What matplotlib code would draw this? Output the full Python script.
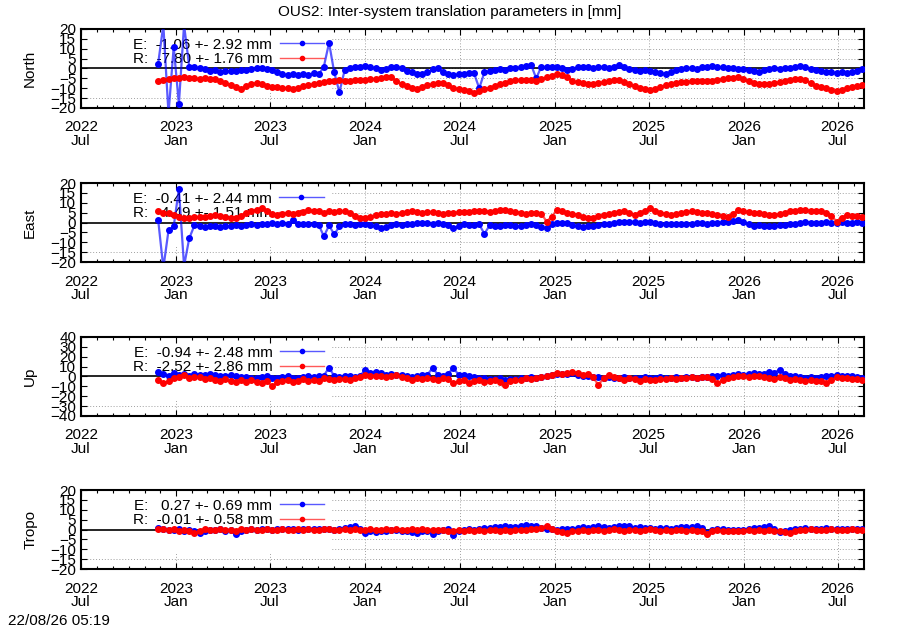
"""OUS2 inter-system translation parameters."""
import matplotlib
matplotlib.use('Agg')
import matplotlib.dates as mdates
import matplotlib.pyplot as plt
import pandas as pd
from matplotlib.patches import Rectangle

plt.rcParams['font.family'] = ['Liberation Sans', 'DejaVu Sans']

# one solution every 10 days from the first day on
FIRST_DAY = '2022-11-27'
N_DAYS = 137

north_e = [
    2.5, 22, -23, 11, -18, 22, 1, 0.5, 0, -0.5,
    -1.5, -1, -2, -1.5, -1.2, -1.5, -1, -0.8, -0.5, 0,
    0.3, -0.5, -1, -2, -3, -3.5, -3, -3.5, -3, -3.5,
    -2.5, -3, 1, 13, -2, -12, -1, 0, 1, 1,
    1.5, 0.5, 0, -1, -0.5, 1, 1, 0, -1.5, -2,
    -3, -3, -2, -0.5, 0, -2, -3, -3.5, -3, -3,
    -2.5, -2.5, -10, -2, -1.5, -1, -0.5, -1, 0, 0,
    0.5, 1.5, 2, -5, 1, 0.5, 1, 0.5, 0, -1,
    -0.5, 0.5, 0.5, 1, 0, 0.5, 1, 0, 0.5, 2,
    1, -0.5, -1, -1.5, -1, -1.5, -2, -2.5, -3, -2,
    -1, -0.5, 0, 0.3, -0.3, 0.5, 0.5, 1.2, 0.8, 0.5,
    0, 0.3, -0.3, -0.5, -1, -1.5, -2, -1, -0.3, 0,
    -0.5, 0, 0.3, 0.5, 1.2, 0.5, -0.5, -1, -1.5, -2,
    -2, -2.5, -2, -2.5, -2, -1.5, -0.5,
]
north_r = [
    -6.4, -6, -5.5, -5, -4.7, -4.5, -5, -5, -5.5, -5,
    -5.5, -5.5, -6.5, -7.5, -8.6, -9.5, -10.5, -9, -8, -7.3,
    -8, -9, -9.3, -9.5, -9.8, -10, -10.6, -10, -9, -8.5,
    -8, -7.5, -6.8, -6.4, -6.5, -6, -6.4, -6.5, -6, -5.8,
    -5.6, -5.5, -5.2, -5, -4.5, -4.2, -6.5, -8, -9, -10,
    -10.6, -9.5, -8.6, -8, -7.6, -7.3, -8.5, -9.8, -10.5, -11,
    -11.5, -12.3, -11.5, -10.5, -9.8, -9, -8, -7.3, -6.5, -6,
    -5.6, -5.8, -6, -6.4, -5.5, -4.5, -3.8, -3, -3.5, -4.5,
    -6.4, -7, -7.5, -8, -7.8, -7.3, -7, -6.5, -5.6, -6,
    -7, -8, -9, -10, -10.6, -11, -10.5, -9.5, -8.5, -8,
    -7.5, -7, -6.8, -6.4, -6.5, -6.4, -6.2, -6.4, -6, -5.5,
    -5, -4.7, -4.5, -5.5, -6.5, -7.3, -7.8, -8, -7.8, -7.3,
    -7, -6.5, -6, -5.5, -5.2, -6, -7.5, -8.9, -9.5, -10,
    -10.8, -11.5, -11, -9.8, -9.3, -9, -8.6,
]
east_e = [
    1.3, -23, -4, -2, 17, -22, -8, -1.5, -2, -2.2,
    -1.8, -2, -2.3, -1.7, -2, -1.5, -2, -1.2, -1, -1.3,
    -1, -0.8, -0.3, -0.5, -0.3, -0.5, 1.3, -0.5, -1, -0.8,
    -1, -1.2, -7, -1.5, -6, -2, -1, -1, -1.2, -1,
    -1, -1.5, -2, -3, -2.5, -1.5, -1, -1.5, -1, -0.5,
    -0.3, 0, -0.3, -0.5, 0, -1, -1.5, -3, -2, -1,
    -1.2, -1.5, -1, -5.7, -1.5, -1.8, -2, -1.5, -1.2, -2,
    -1.8, -1.5, -1, -1.5, -2.5, -3, -1, 0, 0, -0.3,
    -1.5, -2, -2.2, -2, -2, -1.5, -1, -0.5, 0, 0.3,
    0.5, 0.3, 0.5, 0, 0.3, 0.5, 0, -0.5, -0.7, -0.7,
    -1, -0.5, -0.7, -0.5, -0.3, 0, -0.5, 0, -0.3, 0.3,
    0.5, 1, 1.4, 0.5, -1, -1.7, -1.5, -1.7, -2, -1.7,
    -1.5, -1.2, -1, -0.5, 0, 0.5, 0, -0.3, 0, 0.3,
    0, -0.2, 0.3, 0, -0.2, 0.2, 0,
]
east_r = [
    5.6, 5, 4.7, 4, 3, 2.5, 2.2, 3, 2.8, 3,
    3.5, 3.9, 3.5, 3, 2.2, 2.5, 3.5, 5, 5.6, 6.5,
    7.3, 6, 4.5, 3.9, 4.2, 4.7, 4.5, 5, 5.5, 6.4,
    6, 5.6, 5, 5.6, 5.5, 5.8, 5.6, 5, 3.5, 2.5,
    2.2, 3, 3.9, 4.2, 4.5, 4.7, 4.5, 5, 5.3, 5.6,
    5.5, 5, 5.2, 5.5, 4.7, 4.5, 5, 4.7, 5.2, 5.5,
    5.3, 5.6, 5.8, 6, 5.5, 6, 6.4, 6.4, 6, 5.5,
    5, 4.5, 4.7, 4.7, 4.5, 0.5, 3, 6.4, 6, 5,
    4.5, 3.9, 3, 2.2, 2.5, 3.3, 3.9, 4.5, 5, 5.3,
    5.6, 5, 4, 5, 6, 7.3, 6, 5, 4.5, 3.9,
    4.5, 5, 5.3, 5.6, 5.5, 5, 4.7, 4.5, 4, 3.5,
    3, 4.5, 6.4, 6, 5.2, 4.8, 4.7, 4.5, 4, 3.9,
    4.5, 5, 5.6, 6, 6.2, 6.4, 6, 5.8, 5.6, 5,
    3.5, 0.5, 2.5, 3.9, 3.5, 3.2, 3,
]
up_e = [
    5, 3, 1, 3.5, 2, 2.5, 1, 3, 2, 1.5,
    2.5, 2, 1, 0, 2, 0.5, -1, -0.5, -1.5, -2,
    -1, 0, -1.5, -2, -1, 0, -1.5, -2, -0.5, 0.5,
    -1, 0, 1, 9, 0.5, -0.5, 0, 0.5, -0.5, 1,
    6.5, 4, 5, 3.5, 2, 3, 1.5, 2, 0, -1,
    0.5, 1.5, 2, 8.5, 2, 1, 3, 8.5, 2, 1.5,
    0, -1, -2, -1.5, -2.5, -3, -2, -3.4, -2.5, -3,
    -2, -1.5, -1, -1.7, -1, 0, 1.7, 2.5, 3, 2.5,
    3.4, 2, 1, 0, -0.5, -1, -1.7, -1, -2, -1.5,
    -1, -2, -1.5, -1.7, -1, -2, -1.5, -1, -2, -1.7,
    -1, -1.5, -0.5, -1, -1.5, -1, -0.5, 0, 1, 1.7,
    1, 1.5, 2.5, 2, 3, 3.4, 2.5, 3, 5, 4,
    6.8, 3, 1, 0, -1, -1.7, -1, -2, -0.5, 0,
    1, 1.5, 1, 0.5, 0, -1, -1.7,
]
up_r = [
    -3.4, -6.8, -5, -2, -1, 1.7, -2, -0.5, -1, -3,
    -2, -3.4, -4.5, -3, -5, -6, -4, -5.5, -4, -6,
    -6.8, -5, -10, -6, -5, -3.5, -5.5, -4.4, -3, -5,
    -3.4, -4.5, -2, -2.7, -4, -2.5, -3, -3.4, -2, -0.5,
    1.7, 0, 1, 0, -1, 0.5, 1.7, -1, -2, -3.4,
    -2, -3, -1.5, -2.4, -3.4, -2, -3, -6.8, -5, -4,
    -6.8, -5, -4, -6, -5, -4, -6, -8.5, -5, -4,
    -3.4, -2, -3, -1.7, -1, 0.5, 2, 3.4, 3, 4,
    5, 3.5, 2, 2.4, -1, -8.5, -2, 1.7, -1, -2,
    -3.4, -2, -3, -4.4, -3, -4, -3.4, -2.5, -3, -1.7,
    -2.5, -1.5, -2, -1, -1.5, -0.5, -1, -3, -6.8, -4,
    -2, -1, 0, 0.5, -0.5, 1, 0, -1, -1.7, -2.5,
    -1, -2, -3.4, -2.5, -3.5, -4.4, -3.5, -5, -4.5, -6.8,
    -4, -1, -2, -1.5, -2.5, -3, -3.4,
]
tropo_e = [
    0.8, 0.5, 0, -0.3, 0.2, -0.5, -0.3, -0.8, -1.7, -0.5,
    0, -0.3, 0.2, -0.5, -0.3, -2.5, -0.5, 0, 0.3, -0.2,
    0.3, 0.5, 0, 0.3, 0.5, 0.2, 0.4, 0, 0.3, 0.5,
    0.2, 0.3, 0.5, 0.2, 0, 0.3, 0.8, 1.2, 2, 0.5,
    -1.7, -1, -1.3, -0.8, -0.5, 0, -0.3, -0.8, -0.5, -1.2,
    -1.7, -1, -0.5, -2.5, -0.8, 0, 0.3, -3, -0.5, 0,
    0.3, -0.3, 0.5, 0.8, 1, 1.2, 1.5, 1.7, 1.2, 1.5,
    2, 2.5, 1.8, 1.7, 1, 0.5, 0.2, 0, 0.3, 0.5,
    0.3, 0.8, 1.2, 1, 1.5, 2, 1.2, 1, 1.5, 1.7,
    1.8, 1.7, 1, 1.2, 0.8, 0.8, 0.5, 1, 0.8, 0.5,
    1, 1.2, 1.4, 1.2, 1.7, 1, -1.7, 0, 0.5, 0.3,
    0, -0.2, -0.3, 0, 0.5, 0.8, 1, 1.2, 1.7, 0.5,
    -1.3, -0.5, 0, 0.3, 0.5, 0.8, 0.5, 0.3, 0.5, 0.8,
    0.5, 0.3, 0.5, 0.2, 0.3, 0.5, 0.3,
]
tropo_r = [
    0.3, 0.5, -0.3, 0.2, -0.5, 0, -0.8, -2, -0.5, 0.2,
    -0.3, 0, 0.3, -0.2, 0, -0.5, 0.2, 0, 0.3, -0.3,
    0, 0.2, -0.2, 0, 0.3, -0.3, 0, 0.2, -0.2, 0.3,
    0, -0.3, 0.2, 0.5, 0, -0.2, 0.3, 0, 0.2, -0.2,
    0, 0.3, -0.3, 0, 0.2, -0.2, 0.3, 0, -0.3, 0.2,
    0, 0.3, -0.2, 0, -0.3, 0, -0.5, -0.8, -0.3, -0.5,
    -0.2, -0.6, -0.3, -0.5, 0, -0.3, -0.5, -0.2, -0.6, -0.3,
    0, -0.2, 0.3, 0.5, 1, 2, 0.3, -0.8, -1.2, -1.7,
    -1, -0.5, -0.3, -0.6, -0.2, 0, -0.5, -0.2, 0.3, -0.3,
    -0.6, -0.3, 0, -0.5, -0.3, 0.2, -0.3, -0.6, -0.2, -0.5,
    0, -0.3, -0.6, -0.2, -0.5, -0.8, -2.2, -0.5, -0.3, -0.6,
    -0.8, -0.5, -1, -0.6, -0.3, -0.5, -0.2, -0.6, -0.3, -0.8,
    -1, -1.3, -1.7, -0.8, -0.3, 0, 0.3, -0.2, 0, -0.3,
    0.2, -0.2, 0, -0.3, 0.2, -0.2, 0,
]

panel_names = ['North', 'East', 'Up', 'Tropo']
panel_ylims = [20, 20, 40, 20]
panel_ysteps = [5, 5, 10, 5]
e_labels = [
    'E:  -1.06 +- 2.92 mm',
    'E:  -0.41 +- 2.44 mm',
    'E:  -0.94 +- 2.48 mm',
    'E:   0.27 +- 0.69 mm',
]
r_labels = [
    'R:  -7.80 +- 1.76 mm',
    'R:   4.49 +- 1.51 mm',
    'R:  -2.52 +- 2.86 mm',
    'R:  -0.01 +- 0.58 mm',
]


def _plot_panel(ax, name, e_vals, r_vals, ylim, ystep, e_label, r_label):
    dates = pd.date_range(FIRST_DAY, periods=N_DAYS, freq='10D')
    x_lo = pd.Timestamp('2022-07-01')
    x_hi = pd.Timestamp('2026-08-21')
    ax.set_xlim(x_lo, x_hi)
    ax.set_ylim(-ylim, ylim)

    yticks = list(range(-ylim, ylim + 1, ystep))
    ax.set_yticks(yticks)
    ax.xaxis.set_major_locator(mdates.MonthLocator(bymonth=(1, 7)))
    ax.xaxis.set_minor_locator(mdates.MonthLocator())
    ax.xaxis.set_major_formatter(mdates.DateFormatter('%Y\n%b'))

    ax.tick_params(which='both', direction='in', top=True, right=True,
                   width=0.8, labelsize=11)
    ax.tick_params(which='major', length=4)
    ax.tick_params(which='minor', length=2.2)
    ax.tick_params(axis='x', pad=9)
    ax.tick_params(axis='y', pad=3.5)
    for spine in ax.spines.values():
        spine.set_linewidth(1.5)

    # dotted grid, hidden behind the key area on the left
    grid_kw = dict(color='#a0a0a0', lw=0.7, ls=(0, (1, 2)), zorder=0.6)
    for y in yticks:
        ax.axhline(y, **grid_kw)
    for t in ax.xaxis.get_majorticklocs():
        ax.axvline(t, **grid_kw)
    ax.add_patch(Rectangle((0, 0.19), 0.32, 0.81, transform=ax.transAxes,
                           facecolor='white', edgecolor='none', zorder=0.8))

    ax.axhline(0, color='black', lw=1.2, zorder=2)

    line_e, = ax.plot(dates, e_vals, color=(0, 0, 1, 0.65), lw=1.6,
                      marker='o', ms=4, mfc='blue', mec='blue', zorder=3)
    line_r, = ax.plot(dates, r_vals, color=(1, 0, 0, 0.65), lw=1.6,
                      marker='o', ms=4, mfc='red', mec='red', zorder=3.1)

    leg = ax.legend(
        [line_e, line_r], [e_label, r_label],
        loc='upper left', bbox_to_anchor=(0.066, 0.89),
        markerfirst=False, frameon=False, fontsize=11,
        handlelength=2.9, handletextpad=0.5, labelspacing=0.05,
        borderpad=0, borderaxespad=0, numpoints=1,
    )
    for handle in leg.legend_handles:
        handle.set_markersize(3)
        handle.set_linewidth(1)
    leg.set_zorder(1)

    ax.set_ylabel(name, fontsize=11)
    ax.yaxis.set_label_coords(-0.056, 0.5)
    for lbl in ax.get_xticklabels():
        lbl.set_linespacing(0.95)


def _main():
    fig = plt.figure(figsize=(9, 6.3), dpi=100)
    bottoms = [0.8286, 0.5841, 0.3397, 0.0968]
    all_e = [north_e, east_e, up_e, tropo_e]
    all_r = [north_r, east_r, up_r, tropo_r]
    for i, name in enumerate(panel_names):
        ax = fig.add_axes([0.09, bottoms[i], 0.87, 0.1254])
        _plot_panel(ax, name, all_e[i], all_r[i], panel_ylims[i],
                    panel_ysteps[i], e_labels[i], r_labels[i])

    fig.text(0.5, 1 - 12 / 630,
             'OUS2: Inter-system translation parameters in [mm]',
             ha='center', va='center', fontsize=11)
    fig.text(0.009, 1 - 621 / 630, '22/08/26 05:19',
             ha='left', va='center', fontsize=11)
    fig.savefig('out.png', dpi=100)


if __name__ == '__main__':
    _main()
